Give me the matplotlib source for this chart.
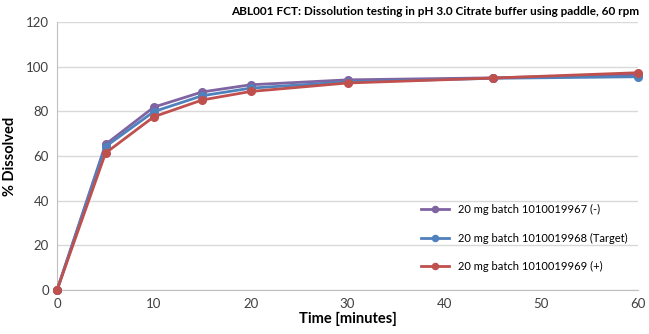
#!/usr/bin/env python3
"""Dissolution profiles for three ABL001 FCT batches."""

import matplotlib
matplotlib.use("Agg")
import matplotlib.pyplot as plt

time_min = [0, 5, 10, 15, 20, 30, 45, 60]
batch_967 = [0, 65.2, 81.9, 88.7, 91.9, 94.1, 95.0, 96.5]
batch_968 = [0, 64.2, 79.9, 87.0, 90.4, 93.2, 94.8, 95.5]
batch_969 = [0, 61.3, 77.6, 85.1, 88.9, 92.7, 94.9, 97.3]

series_labels = [
    "20 mg batch 1010019967 (-)",
    "20 mg batch 1010019968 (Target)",
    "20 mg batch 1010019969 (+)",
]
colors = ["#8064A2", "#4F81BD", "#C0504D"]

x_ticks = [0, 10, 20, 30, 40, 50, 60]
y_ticks = [0, 20, 40, 60, 80, 100, 120]

plt.rcParams["font.family"] = ["Lato", "DejaVu Sans"]

fig = plt.figure(figsize=(6.49, 3.34), dpi=100)
ax = fig.add_axes([0.088, 0.132, 0.895, 0.802])

for values, label, color in zip([batch_967, batch_968, batch_969], series_labels, colors):
    ax.plot(time_min, values, color=color, lw=2.0, marker="o", ms=5.5,
            label=label, zorder=3, clip_on=False)

ax.set_xlim(0, 60)
ax.set_ylim(0, 120)
ax.set_xticks(x_ticks)
ax.set_yticks(y_ticks)
ax.tick_params(length=0, labelsize=9.5, colors="#404040", pad=6)
ax.grid(axis="y", color="#D9D9D9", lw=1.0)
ax.set_axisbelow(True)
for side in ("top", "right"):
    ax.spines[side].set_visible(False)
for side in ("left", "bottom"):
    ax.spines[side].set_color("#BFBFBF")

ax.set_xlabel("Time [minutes]", fontsize=10.5, fontweight="bold", labelpad=1)
ax.set_ylabel("% Dissolved", fontsize=10.5, fontweight="bold", labelpad=6)
fig.text(0.985, 0.965, "ABL001 FCT: Dissolution testing in pH 3.0 Citrate buffer using paddle, 60 rpm",
         ha="right", va="center", fontsize=8.5, fontweight="bold")

ax.legend(loc="lower right", bbox_to_anchor=(1.0, 0.03), frameon=False,
          fontsize=8, labelspacing=1.55, handlelength=2.6, markerscale=0.8)

fig.savefig("out.png", dpi=100)
